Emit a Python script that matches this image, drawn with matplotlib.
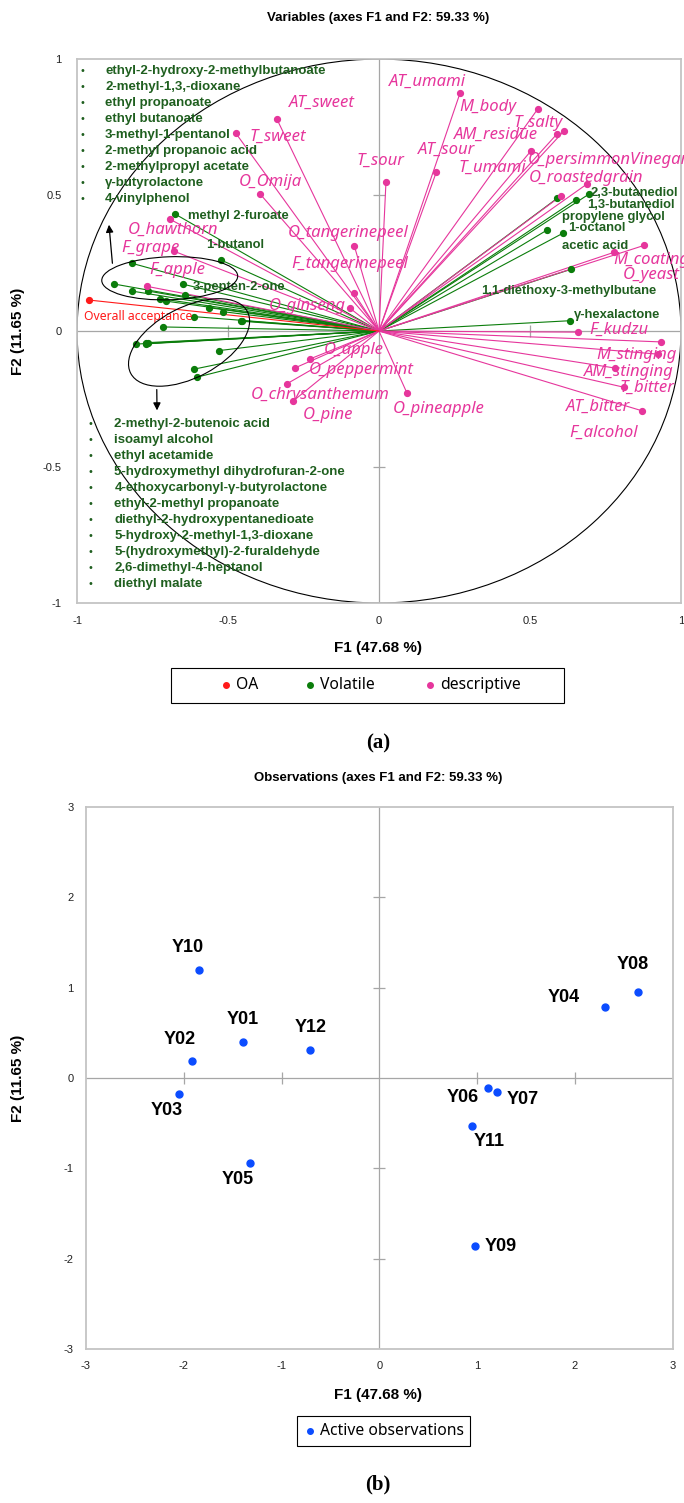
import matplotlib
matplotlib.use('Agg')
from matplotlib import pyplot as plt
from matplotlib.patches import Ellipse, Rectangle
from matplotlib.lines import Line2D
import matplotlib.transforms as mtransforms
import numpy as np

# ---------------- data ----------------
# descriptive attributes: loadings and label anchors
desc_names = ['AT_umami', 'M_body', 'T_salty', 'AM_residue', 'O_persimmonVinegar', 'AT_sour',
              'T_umami', 'O_roastedgrain', 'T_sour', 'AT_sweet', 'T_sweet', 'O_Omija',
              'O_hawthorn', 'F_grape', 'F_apple', 'O_tangerinepeel', 'F_tangerinepeel',
              'O_ginseng', 'O_apple', 'O_peppermint', 'O_chrysanthemum', 'O_pine',
              'O_pineapple', 'M_coating', 'O_yeast', 'F_kudzu', 'M_stinging', 'AM_stinging',
              'F_alcohol', 'T_bitter', 'AT_bitter']
desc_x = [0.268, 0.526, 0.612, 0.588, 0.503, 0.190, 0.603, 0.688, 0.023, -0.338, -0.474, -0.393,
          -0.692, -0.680, -0.767, -0.082, -0.084, -0.095, -0.227, -0.277, -0.305, -0.285,
          0.093, 0.878, 0.777, 0.659, 0.934, 0.924, 0.781, 0.812, 0.870]
desc_y = [0.874, 0.817, 0.735, 0.723, 0.662, 0.585, 0.497, 0.540, 0.547, 0.779, 0.727, 0.503,
          0.411, 0.294, 0.164, 0.314, 0.140, 0.083, -0.102, -0.135, -0.194, -0.258,
          -0.229, 0.315, 0.289, -0.004, -0.040, -0.085, -0.136, -0.207, -0.293]
desc_lx = [0.033, 0.265, 0.447, 0.248, 0.493, 0.129, 0.262, 0.497, -0.076, -0.298, -0.430, -0.464,
           -0.831, -0.854, -0.762, -0.301, -0.291, -0.364, -0.182, -0.232, -0.424, -0.252,
           0.046, 0.775, 0.808, 0.695, 0.719, 0.679, 0.629, 0.795, 0.619]
desc_ly = [0.915, 0.824, 0.765, 0.721, 0.629, 0.665, 0.599, 0.562, 0.625, 0.838, 0.713, 0.548,
           0.371, 0.305, 0.224, 0.360, 0.246, 0.092, -0.070, -0.143, -0.235, -0.309,
           -0.287, 0.261, 0.206, 0.004, -0.088, -0.151, -0.375, -0.210, -0.279]

# volatile compounds
vol_x = [-0.675, -0.523, -0.648,
         -0.818, -0.878, -0.819, -0.765, -0.724, -0.705, -0.642, -0.564, -0.515,
         -0.454, -0.613, -0.714, -0.805, -0.772, -0.766, -0.530, -0.612, -0.604, -0.770, -0.456,
         0.696, 0.651, 0.590, 0.608, 0.556, 0.636, 0.633]
vol_y = [0.430, 0.261, 0.172,
         0.249, 0.173, 0.147, 0.147, 0.119, 0.110, 0.134, 0.086, 0.071,
         0.038, 0.053, 0.015, -0.048, -0.043, -0.045, -0.072, -0.140, -0.170, -0.047, 0.036,
         0.504, 0.482, 0.488, 0.359, 0.371, 0.227, 0.038]
vol_names = ['methyl 2-furoate', '1-butanol', '3-penten-2-one', '2,3-butanediol', '1,3-butanediol',
             'propylene glycol', '1-octanol', 'acetic acid', '1,1-diethoxy-3-methylbutane',
             '\u03b3-hexalactone']
vol_lx = [-0.633, -0.573, -0.617, 0.702, 0.689, 0.605, 0.625, 0.605, 0.338, 0.645]
vol_ly = [0.424, 0.316, 0.163, 0.506, 0.463, 0.418, 0.380, 0.312, 0.147, 0.059]

upper_group = ['ethyl-2-hydroxy-2-methylbutanoate', '2-methyl-1,3,-dioxane', 'ethyl propanoate',
               'ethyl butanoate', '3-methyl-1-pentanol', '2-methyl propanoic acid',
               '2-methylpropyl acetate', '\u03b3-butyrolactone', '4-vinylphenol']
lower_group = ['2-methyl-2-butenoic acid', 'isoamyl alcohol', 'ethyl acetamide',
               '5-hydroxymethyl dihydrofuran-2-one', '4-ethoxycarbonyl-\u03b3-butyrolactone',
               'ethyl-2-methyl propanoate', 'diethyl-2-hydroxypentanedioate',
               '5-hydroxy-2-methyl-1,3-dioxane', '5-(hydroxymethyl)-2-furaldehyde',
               '2,6-dimethyl-4-heptanol', 'diethyl malate']

oa_x = [-0.961]
oa_y = [0.114]

# observations
obs_names = ['Y01', 'Y02', 'Y03', 'Y04', 'Y05', 'Y06', 'Y07', 'Y08', 'Y09', 'Y10', 'Y11', 'Y12']
obs_x = [-1.398, -1.912, -2.046, 2.311, -1.325, 1.109, 1.207, 2.642, 0.974, -1.843, 0.942, -0.705]
obs_y = [0.397, 0.184, -0.174, 0.783, -0.944, -0.111, -0.159, 0.952, -1.856, 1.199, -0.533, 0.313]
# label offsets in points
obs_dx = [0, -9, -9, -30, -9, -18, 18, -4, 19, -8, 13, 0]
obs_dy = [16, 16, -12, 7, -12, -7, -5, 20, -1, 16, -11, 16]

PINK = '#e6369c'
GREEN = '#0b7d0b'
GREEN_TXT = '#1f5f1f'
RED = '#ff1a1a'
BLUE = '#0b4cff'
GRID = '#a6a6a6'
FRAME = '#c4c4c4'
LABEL_FONT = ['Noto Sans', 'DejaVu Sans']
BOLD_FONT = ['Liberation Sans', 'DejaVu Sans']
HEAD_FONT = ['Liberation Sans', 'DejaVu Sans']
H = 1503.0
W = 684.0


def style_axes(ax, lim, ticks, labels, pad_x, pad_y):
    """Frame, zero lines with small crossing ticks and edge tick labels."""
    ax.set_xlim(-lim, lim)
    ax.set_ylim(-lim, lim)
    for sp in ax.spines.values():
        sp.set_color(FRAME)
        sp.set_linewidth(1.3)
    ax.axhline(0, color=GRID, lw=0.9, zorder=0)
    ax.axvline(0, color=GRID, lw=0.9, zorder=0)
    inner = [t for t in ticks if t != 0 and abs(t) != lim]
    ax.plot(np.zeros(len(inner)), inner, ls='none', marker='_', ms=9, mew=0.9, color=GRID, zorder=0)
    ax.plot(inner, np.zeros(len(inner)), ls='none', marker='|', ms=9, mew=0.9, color=GRID, zorder=0)
    ax.set_xticks(ticks)
    ax.set_yticks(ticks)
    ax.set_xticklabels(labels, family=HEAD_FONT)
    ax.set_yticklabels(labels, family=HEAD_FONT)
    ax.tick_params(axis='x', length=0, labelsize=8, colors='#222222', pad=pad_x)
    ax.tick_params(axis='y', length=0, labelsize=8, colors='#222222', pad=pad_y)


def box_legend(fig, box, entries):
    """Legend box in pixel coords: box=(left, top, right, bottom), entries=(dot_x, color, text)."""
    l, t, r, b = box
    fig.add_artist(Rectangle((l / W, 1 - b / H), (r - l) / W, (b - t) / H, fill=False,
                             ec='black', lw=0.8, transform=fig.transFigure))
    yc = 1 - (t + b) / 2 / H
    for dot_x, color, text in entries:
        fig.add_artist(Line2D([dot_x / W], [yc], ls='none', marker='o', ms=4, color=color,
                              transform=fig.transFigure))
        fig.text((dot_x + 10) / W, yc, text, ha='left', va='center', fontsize=11.3,
                 family=LABEL_FONT)


fig = plt.figure(figsize=(6.84, 15.03), dpi=100)

# ================= (a) variables =================
ax1 = fig.add_axes([0.1126, 0.5988, 0.883, 0.3619])
style_axes(ax1, 1, [-1, -0.5, 0, 0.5, 1], ['-1', '-0.5', '0', '0.5', '1'], 9, 11)

# correlation circle
ax1.add_patch(Ellipse((0, 0), 2, 2, fill=False, ec='black', lw=0.8, zorder=1))

for x, y in zip(vol_x, vol_y):
    ax1.plot([0, x], [0, y], color=GREEN, lw=0.8, zorder=2)
for x, y in zip(desc_x, desc_y):
    ax1.plot([0, x], [0, y], color=PINK, lw=0.8, zorder=2)
for x, y in zip(oa_x, oa_y):
    ax1.plot([0, x], [0, y], color=RED, lw=0.8, zorder=2)

ax1.plot(vol_x, vol_y, 'o', color=GREEN, ms=4.2, zorder=3)
ax1.plot(desc_x, desc_y, 'o', color=PINK, ms=4.2, zorder=3)
ax1.plot(oa_x, oa_y, 'o', color=RED, ms=4.2, zorder=3)

for name, x, y in zip(desc_names, desc_lx, desc_ly):
    ax1.text(x, y, name, color=PINK, style='italic', fontsize=12, family=LABEL_FONT,
             ha='left', va='center', clip_on=False, zorder=4)
for name, x, y in zip(vol_names, vol_lx, vol_ly):
    ax1.text(x, y, name, color=GREEN_TXT, fontweight='bold', fontsize=9.4, family=BOLD_FONT,
             ha='left', va='center', zorder=4)
ax1.text(-0.976, 0.053, 'Overall acceptance', color=RED, fontsize=8.8, family=LABEL_FONT,
         ha='left', va='center', zorder=4)

# grouped compound lists
for i, name in enumerate(upper_group):
    yy = (331 - (70.7 + 16 * i)) / 272
    ax1.text(-0.983, yy, '\u2022', color=GREEN_TXT, fontsize=7, ha='center', va='center')
    ax1.text(-0.907, yy, name, color=GREEN_TXT, fontweight='bold', fontsize=9.5,
             family=BOLD_FONT, ha='left', va='center')
for i, name in enumerate(lower_group):
    yy = (331 - (424.3 + 16 * i)) / 272
    ax1.text(-0.954, yy, '\u2022', color=GREEN_TXT, fontsize=7, ha='center', va='center')
    ax1.text(-0.876, yy, name, color=GREEN_TXT, fontweight='bold', fontsize=9.5,
             family=BOLD_FONT, ha='left', va='center')

# group ellipses drawn in inches so that the tilt is not skewed by the axes scaling
for cx, cy, w, h, ang in [(-0.693, 0.194, 1.36, 0.43, 2), (-0.629, -0.042, 1.32, 0.70, 28)]:
    tr = fig.dpi_scale_trans + mtransforms.ScaledTranslation(cx, cy, ax1.transData)
    ax1.add_patch(Ellipse((0, 0), w, h, angle=ang, fill=False, ec='black', lw=0.8,
                          transform=tr, zorder=4))
ax1.annotate('', xy=(-0.895, 0.401), xytext=(-0.882, 0.239),
             arrowprops=dict(arrowstyle='-|>', color='black', lw=0.9, mutation_scale=11))
ax1.annotate('', xy=(-0.735, -0.302), xytext=(-0.736, -0.205),
             arrowprops=dict(arrowstyle='-|>', color='black', lw=0.9, mutation_scale=11))

fig.text(0.553, 0.988, 'Variables (axes F1 and F2: 59.33 %)', ha='center', va='center',
         fontsize=9.5, fontweight='bold', family=HEAD_FONT)
fig.text(0.553, 0.5689, 'F1 (47.68 %)', ha='center', va='center', fontsize=11,
         fontweight='bold', family=HEAD_FONT)
fig.text(0.026, 1 - 331 / H, 'F2 (11.65 %)', ha='center', va='center', rotation=90,
         fontsize=11, fontweight='bold', family=HEAD_FONT)

box_legend(fig, (171, 668, 564, 703),
           [(226, RED, 'OA'), (310, GREEN, 'Volatile'), (430, PINK, 'descriptive')])

fig.text(0.553, 1 - 743 / H, '(a)', ha='center', va='center', fontsize=15,
         fontweight='bold', family=['Liberation Serif', 'DejaVu Serif'])

# ================= (b) observations =================
ax2 = fig.add_axes([0.1257, 0.1025, 0.858, 0.3606])
style_axes(ax2, 3, [-3, -2, -1, 0, 1, 2, 3], ['-3', '-2', '-1', '0', '1', '2', '3'], 9, 9)
ax2.plot(obs_x, obs_y, 'o', color=BLUE, ms=5, zorder=3)
for name, x, y, dx, dy in zip(obs_names, obs_x, obs_y, obs_dx, obs_dy):
    ax2.annotate(name, (x, y), xytext=(dx, dy), textcoords='offset points', ha='center',
                 va='center', fontsize=13, fontweight='bold', family=BOLD_FONT)

fig.text(0.553, 1 - 778 / H, 'Observations (axes F1 and F2: 59.33 %)', ha='center',
         va='center', fontsize=9.5, fontweight='bold', family=HEAD_FONT)
fig.text(0.553, 1 - 1395 / H, 'F1 (47.68 %)', ha='center', va='center', fontsize=11,
         fontweight='bold', family=HEAD_FONT)
fig.text(0.026, 1 - 1078 / H, 'F2 (11.65 %)', ha='center', va='center', rotation=90,
         fontsize=11, fontweight='bold', family=HEAD_FONT)

box_legend(fig, (297, 1416, 470, 1446), [(310, BLUE, 'Active observations')])

fig.text(0.553, 1 - 1484 / H, '(b)', ha='center', va='center', fontsize=15,
         fontweight='bold', family=['Liberation Serif', 'DejaVu Serif'])

fig.savefig('out.png', dpi=100)
